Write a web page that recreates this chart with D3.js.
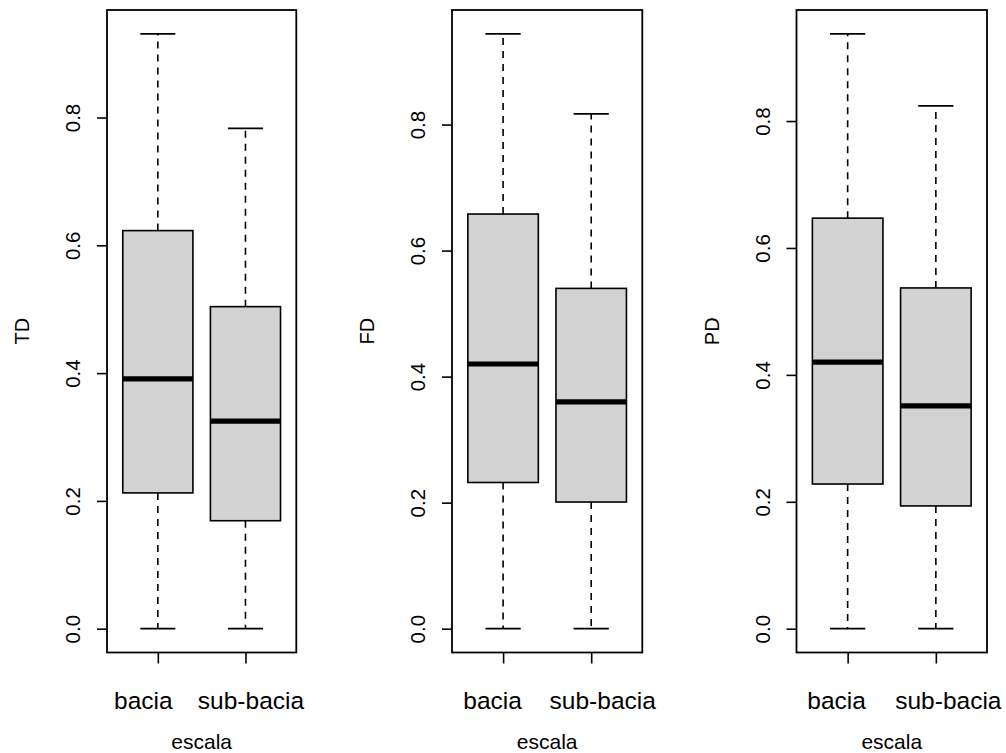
<!DOCTYPE html>
<html>
<head>
<meta charset="utf-8">
<script src="https://cdn.jsdelivr.net/npm/d3@7"></script>
<style>
  html, body { margin: 0; padding: 0; background: #fff; }
  svg { display: block; }
  text { font-family: "Liberation Sans", Arial, sans-serif; fill: #000; }
</style>
</head>
<body>
<svg id="chart" width="1006" height="753"></svg>
<script>
// ---- data ----
const categories = ["bacia", "sub-bacia"];
const panelLabels = ["TD", "FD", "PD"];
const xTitle = "escala";
const yTicks = [0.0, 0.2, 0.4, 0.6, 0.8];

// five-number summaries: [lower whisker, Q1, median, Q3, upper whisker]
const TD_bacia    = [0, 0.2125, 0.391, 0.623, 0.931];
const TD_subbacia = [0, 0.169, 0.325, 0.504, 0.783];
const FD_bacia    = [0, 0.232, 0.420, 0.658, 0.944];
const FD_subbacia = [0, 0.201, 0.360, 0.540, 0.817];
const PD_bacia    = [0, 0.228, 0.420, 0.647, 0.9375];
const PD_subbacia = [0, 0.1935, 0.351, 0.537, 0.824];

const panelStats = [
  [TD_bacia, TD_subbacia],
  [FD_bacia, FD_subbacia],
  [PD_bacia, PD_subbacia]
];

// ---- layout ----
const frameLefts  = [107, 452, 796.5];
const frameRights = [296.3, 642.3, 987];
const frameTop = 10, frameBottom = 652.5;
// horizontal nudges of the category labels, as placed in the reference
const labelShift = [[-15, 5], [-11, 11], [-11.5, 12]];

const svg = d3.select("#chart");
const stroke = "#000";

panelStats.forEach((stats, p) => {
  const L = frameLefts[p], R = frameRights[p];
  const g = svg.append("g");

  const ymax = d3.max(stats, s => s[4]);
  const ymin = d3.min(stats, s => s[0]);
  const pad = (ymax - ymin) * 0.04;
  const y = d3.scaleLinear().domain([ymin - pad, ymax + pad]).range([frameBottom, frameTop]);
  const x = d3.scaleLinear().domain([0.42, 2.58]).range([L, R]);

  const boxHalf = 0.4, stapleHalf = 0.2;

  stats.forEach((s, i) => {
    const cx = x(i + 1);
    const bg = g.append("g");
    // whiskers (dashed)
    bg.append("line")
      .attr("x1", cx).attr("x2", cx)
      .attr("y1", y(s[1])).attr("y2", y(s[0]))
      .attr("stroke", stroke).attr("stroke-width", 1.6).attr("stroke-dasharray", "7,6");
    bg.append("line")
      .attr("x1", cx).attr("x2", cx)
      .attr("y1", y(s[3])).attr("y2", y(s[4]))
      .attr("stroke", stroke).attr("stroke-width", 1.6).attr("stroke-dasharray", "7,6");
    // staples
    [s[0], s[4]].forEach(v => {
      bg.append("line")
        .attr("x1", x(i + 1 - stapleHalf)).attr("x2", x(i + 1 + stapleHalf))
        .attr("y1", y(v)).attr("y2", y(v))
        .attr("stroke", stroke).attr("stroke-width", 1.8);
    });
    // box
    bg.append("rect")
      .attr("x", x(i + 1 - boxHalf))
      .attr("width", x(i + 1 + boxHalf) - x(i + 1 - boxHalf))
      .attr("y", y(s[3]))
      .attr("height", y(s[1]) - y(s[3]))
      .attr("fill", "#d3d3d3")
      .attr("stroke", stroke).attr("stroke-width", 1.6);
    // median
    bg.append("line")
      .attr("x1", x(i + 1 - boxHalf)).attr("x2", x(i + 1 + boxHalf))
      .attr("y1", y(s[2])).attr("y2", y(s[2]))
      .attr("stroke", stroke).attr("stroke-width", 5.2);
  });

  // frame
  g.append("rect")
    .attr("x", L).attr("y", frameTop)
    .attr("width", R - L).attr("height", frameBottom - frameTop)
    .attr("fill", "none").attr("stroke", stroke).attr("stroke-width", 1.8);

  // y axis
  const yAxis = d3.axisLeft(y).tickValues(yTicks).tickSize(10).tickPadding(0)
    .tickFormat(d3.format(".1f"));
  const ya = g.append("g").attr("transform", `translate(${L},0)`).call(yAxis);
  ya.select(".domain").remove();
  ya.selectAll(".tick line").attr("stroke", stroke).attr("stroke-width", 1.6);
  ya.selectAll(".tick text")
    .attr("x", null).attr("dy", null)
    .attr("text-anchor", "middle")
    .attr("transform", "translate(-27,0) rotate(-90)")
    .attr("font-size", 20.5)
    .style("font-family", "'Liberation Sans', Arial, sans-serif");

  // x axis
  const xAxis = d3.axisBottom(x).tickValues([1, 2]).tickSize(11).tickPadding(0)
    .tickFormat((d) => categories[d - 1]);
  const xa = g.append("g").attr("transform", `translate(0,${frameBottom})`).call(xAxis);
  xa.select(".domain").remove();
  xa.selectAll(".tick line").attr("stroke", stroke).attr("stroke-width", 1.6);
  xa.selectAll(".tick text")
    .attr("y", 56).attr("dy", null)
    .attr("x", (d) => labelShift[p][d - 1])
    .attr("font-size", 24.5)
    .style("font-family", "'Liberation Sans', Arial, sans-serif");

  // axis titles
  g.append("text")
    .attr("transform", `translate(${L - 77.7},${(frameTop + frameBottom) / 2}) rotate(-90)`)
    .attr("text-anchor", "middle")
    .attr("font-size", 20)
    .text(panelLabels[p]);
  g.append("text")
    .attr("x", (L + R) / 2).attr("y", 749)
    .attr("text-anchor", "middle")
    .attr("font-size", 21)
    .text(xTitle);
});
</script>
</body>
</html>
